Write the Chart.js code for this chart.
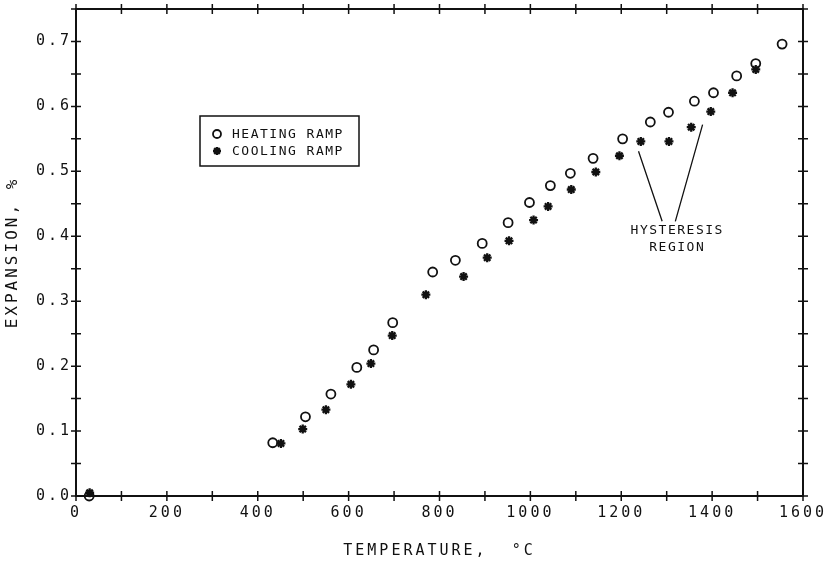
<!DOCTYPE html>
<html>
<head>
<meta charset="utf-8">
<script src="https://cdn.jsdelivr.net/npm/chart.js@4/dist/chart.umd.min.js"></script>
<style>
  html, body { margin: 0; padding: 0; background: #fff; }
  #wrap { width: 832px; height: 566px; position: relative; }
</style>
</head>
<body>
<div id="wrap"><canvas id="c"></canvas></div>
<script>
// heating ramp (circles)
const heatTemp = [29, 433, 505, 561, 618, 655, 697, 785, 835, 894, 951, 998, 1044, 1088, 1138, 1203, 1264, 1304, 1361, 1403, 1454, 1496, 1554];
const heatExp  = [0.0, 0.082, 0.122, 0.157, 0.198, 0.225, 0.267, 0.345, 0.363, 0.389, 0.421, 0.452, 0.478, 0.497, 0.520, 0.550, 0.576, 0.591, 0.608, 0.621, 0.647, 0.666, 0.696];
// cooling ramp (asterisks)
const coolTemp = [30, 451, 499, 550, 605, 649, 696, 770, 853, 905, 953, 1007, 1039, 1090, 1144, 1196, 1243, 1305, 1354, 1397, 1445, 1496];
const coolExp  = [0.005, 0.081, 0.103, 0.133, 0.172, 0.204, 0.247, 0.310, 0.338, 0.367, 0.393, 0.425, 0.446, 0.472, 0.499, 0.524, 0.546, 0.546, 0.568, 0.592, 0.621, 0.657];

const seriesLabels = ['HEATING RAMP', 'COOLING RAMP'];
const xTitle = 'TEMPERATURE,  \u00B0C';
const yTitle = 'EXPANSION, %';

// hysteresis callout: label lines and leader lines (data coords)
const noteLines = ['HYSTERESIS', 'REGION'];
const noteAt = [1321, 0.395];
const leaderFrom = [[1238, 0.531], [1379, 0.572]];
const leaderTo = [[1290, 0.423], [1319, 0.423]];

const FONT = "'DejaVu Sans Mono', monospace";
const ink = '#111';

const pairs = (xs, ys) => xs.map((x, i) => ({ x, y: ys[i] }));

const frame = {
  id: 'frame',
  beforeDraw(chart) {
    chart.ctx.letterSpacing = '3px';
  },
  afterDraw(chart) {
    const { ctx, chartArea: a, scales: { x, y } } = chart;
    ctx.save();
    ctx.strokeStyle = ink;
    ctx.lineWidth = 2;
    ctx.strokeRect(a.left, a.top, a.right - a.left, a.bottom - a.top);

    ctx.lineWidth = 1.5;
    ctx.beginPath();
    x.ticks.forEach(t => {
      const px = x.getPixelForValue(t.value);
      ctx.moveTo(px, a.bottom - 5); ctx.lineTo(px, a.bottom + 5);
      ctx.moveTo(px, a.top - 5); ctx.lineTo(px, a.top + 5);
    });
    y.ticks.forEach(t => {
      const py = y.getPixelForValue(t.value);
      ctx.moveTo(a.left - 5, py); ctx.lineTo(a.left + 5, py);
      ctx.moveTo(a.right - 5, py); ctx.lineTo(a.right + 5, py);
    });
    ctx.stroke();

    // legend box
    ctx.lineWidth = 1.5;
    ctx.strokeRect(200, 116, 159, 50);
    const sets = chart.data.datasets;
    ctx.font = '13px ' + FONT;
    ctx.letterSpacing = '1.5px';
    ctx.textBaseline = 'middle';
    ctx.textAlign = 'left';
    [134, 151].forEach((ly, i) => {
      const ds = sets[i];
      ctx.lineWidth = ds.pointBorderWidth;
      ctx.strokeStyle = ink;
      ctx.fillStyle = 'rgba(0,0,0,0)';
      Chart.helpers.drawPoint(ctx, { pointStyle: ds.pointStyle, radius: ds.pointRadius - 0.5, borderWidth: ds.pointBorderWidth, rotation: 0 }, 217, ly);
      ctx.fillStyle = ink;
      ctx.fillText(ds.label, 232, ly + 1);
    });

    // hysteresis callout
    ctx.strokeStyle = ink;
    ctx.lineWidth = 1.3;
    ctx.beginPath();
    leaderFrom.forEach((p, i) => {
      ctx.moveTo(x.getPixelForValue(p[0]), y.getPixelForValue(p[1]));
      ctx.lineTo(x.getPixelForValue(leaderTo[i][0]), y.getPixelForValue(leaderTo[i][1]));
    });
    ctx.stroke();
    ctx.textAlign = 'center';
    const nx = x.getPixelForValue(noteAt[0]);
    const ny = y.getPixelForValue(noteAt[1]);
    noteLines.forEach((s, i) => ctx.fillText(s, nx + 1, ny - 9 + i * 17));
    ctx.restore();
  }
};

new Chart(document.getElementById('c'), {
  type: 'scatter',
  data: {
    datasets: [
      {
        label: seriesLabels[0],
        data: pairs(heatTemp, heatExp),
        pointStyle: 'circle',
        pointRadius: 4.5,
        pointBorderWidth: 1.8,
        borderColor: ink,
        backgroundColor: 'rgba(0,0,0,0)',
        pointBackgroundColor: 'rgba(0,0,0,0)',
        pointBorderColor: ink,
        clip: false,
      },
      {
        label: seriesLabels[1],
        data: pairs(coolTemp, coolExp),
        pointStyle: 'star',
        pointRadius: 4.5,
        pointBorderWidth: 2.3,
        borderColor: ink,
        pointBorderColor: ink,
        clip: false,
      },
    ],
  },
  options: {
    responsive: true,
    maintainAspectRatio: false,
    animation: false,
    events: [],
    layout: { padding: { top: 9, right: 29, left: 0, bottom: 0 } },
    plugins: { legend: { display: false }, tooltip: { enabled: false } },
    scales: {
      x: {
        type: 'linear',
        min: 0,
        max: 1600,
        afterFit: s => { s.height = 70; },
        grid: { display: false },
        border: { display: false },
        ticks: {
          stepSize: 100,
          autoSkip: false,
          maxRotation: 0,
          padding: 0,
          color: ink,
          font: { family: FONT, size: 15 },
          callback: v => (v % 200 === 0 ? String(v) : ''),
        },
        title: {
          display: true,
          text: xTitle,
          color: ink,
          font: { family: FONT, size: 15 },
          padding: { top: 0, bottom: 6 },
        },
      },
      y: {
        type: 'linear',
        min: 0,
        max: 0.75,
        afterFit: s => { s.width = 76; s.paddingTop = 0; s.paddingBottom = 0; },
        grid: { display: false, drawTicks: false },
        border: { display: false },
        ticks: {
          stepSize: 0.05,
          autoSkip: false,
          padding: 4,
          color: ink,
          font: { family: FONT, size: 15 },
          callback: v => (Math.round(v * 100) % 10 === 0 ? v.toFixed(1) : ''),
        },
        title: {
          display: true,
          text: yTitle,
          color: ink,
          font: { family: FONT, size: 16 },
          padding: { top: 3, bottom: 0 },
        },
      },
    },
  },
  plugins: [frame],
});
</script>
</body>
</html>
